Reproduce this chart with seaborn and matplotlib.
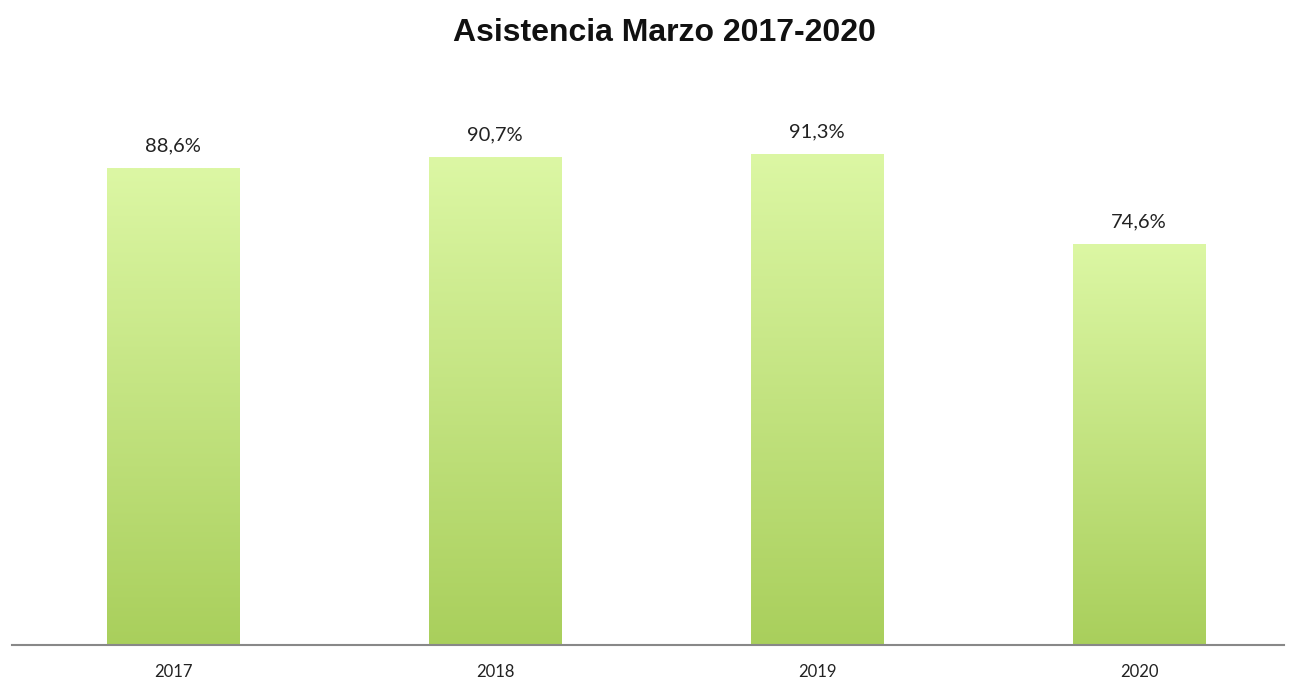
import numpy as np
import pandas as pd
import matplotlib
matplotlib.use("Agg")
import matplotlib.pyplot as plt
from matplotlib.colors import LinearSegmentedColormap
import seaborn as sns

years = ["2017", "2018", "2019", "2020"]
asistencia = [88.6, 90.7, 91.3, 74.6]
etiquetas = ["88,6%", "90,7%", "91,3%", "74,6%"]

df = pd.DataFrame({"Año": years, "Asistencia": asistencia})

sns.set_style("white")
fig = plt.figure(figsize=(12.92, 6.81), dpi=100)
ax = fig.add_axes([0.0093, 0.0529, 0.9845, 0.79])

sns.barplot(data=df, x="Año", y="Asistencia", color="#c4e57e", width=0.41, ax=ax)

# degradado verde en cada barra
cmap = LinearSegmentedColormap.from_list("verde", ["#a9cf5c", "#dcf7a4"])
grad = np.linspace(0, 1, 256).reshape(-1, 1)
for p in ax.patches:
    x0, y0 = p.get_x(), p.get_y()
    w, h = p.get_width(), p.get_height()
    im = ax.imshow(grad, cmap=cmap, origin="lower", aspect="auto",
                   extent=[x0, x0 + w, y0, y0 + h], zorder=p.get_zorder() + 0.1)
    im.set_clip_path(p)

for p, txt in zip(ax.patches, etiquetas):
    ax.annotate(txt, (p.get_x() + p.get_width() / 2, p.get_height()),
                xytext=(0, 16), textcoords="offset points", ha="center", va="center",
                fontsize=14.5, color="#222222", family="Lato")

ax.set_xlim(-0.5, 3.45)
ax.set_ylim(0, 100)
ax.set_xlabel("")
ax.set_ylabel("")
ax.set_yticks([])
ax.tick_params(axis="x", length=0, pad=14, labelsize=12, labelcolor="#222222")
for lbl in ax.get_xticklabels():
    lbl.set_family("Lato")
for s in ["top", "right", "left"]:
    ax.spines[s].set_visible(False)
ax.spines["bottom"].set_color("#888888")
ax.spines["bottom"].set_linewidth(1.5)

fig.text(0.514, 0.951, "Asistencia Marzo 2017-2020", ha="center", va="center",
         fontsize=23, fontweight="bold", family="Liberation Sans", color="#111111")

fig.savefig("out.png", dpi=100)
